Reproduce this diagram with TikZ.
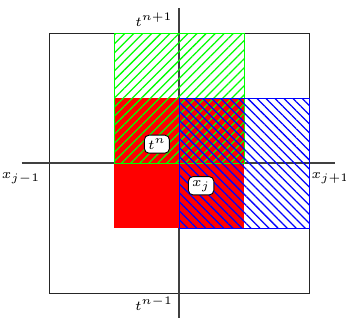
\documentclass[tikz,border=0pt]{standalone}
\usetikzlibrary{patterns.meta}
\begin{document}
\begin{tikzpicture}[x=1cm,y=1cm,
  axis/.style={draw=black!75,line width=0.5pt},
  lbl/.style={draw=black,fill=white,rounded corners=2pt,inner sep=1.6pt,font=\fontsize{6.5}{8}\selectfont},
  plain/.style={inner sep=1pt,font=\fontsize{6.5}{8}\selectfont}]
\useasboundingbox (-2.754,-2.431) rectangle (2.569,2.508);
% frame and axes
\draw[black!85] (-2,-2) rectangle (2,2);
\coordinate (hl) at (-2.42,0);
\coordinate (hr) at (2.4,0);
\coordinate (vb) at (0,-2.38);
\coordinate (vt) at (0,2.38);
\draw[axis] (hl) -- (hr);
\draw[axis] (vb) -- (vt);
% cells
\fill[red] (-1,-1) rectangle (1,1);
\draw[green,pattern={Lines[angle=45,distance=2.8pt,line width=0.55pt]},pattern color=green] (-1,0) rectangle (1,2);
\draw[blue,pattern={Lines[angle=-45,distance=2.8pt,line width=0.55pt]},pattern color=blue] (0,-1) rectangle (2,1);
% labels
\node[plain] (xjm) at (-2.43,-0.23) {$x_{j-1}$};
\node[plain] (xjp) at (2.33,-0.23) {$x_{j+1}$};
\node[plain] (tnp) at (-0.385,2.2) {$t^{n+1}$};
\node[plain] (tnm) at (-0.385,-2.17) {$t^{n-1}$};
\node[lbl] (tn) at (-0.34,0.29) {$t^{n}$};
\node[lbl] (xj) at (0.34,-0.35) {$x_{j}$};
\end{tikzpicture}
\end{document}
